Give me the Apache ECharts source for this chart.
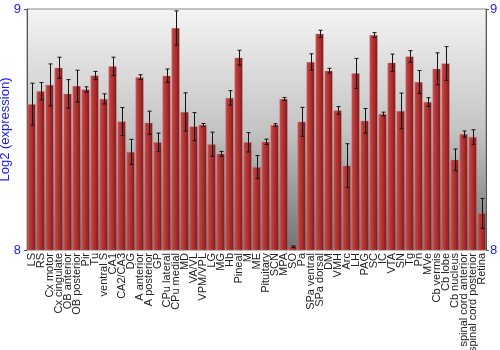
<!DOCTYPE html>
<html><head><meta charset="utf-8">
<script src="https://cdn.jsdelivr.net/npm/echarts@6/dist/echarts.min.js"></script>
<style>html,body{margin:0;padding:0;background:#fff}#c{width:500px;height:350px}</style>
</head><body><div id="c"></div>
<script>
const categories = ["LS","RS","Cx motor","Cx cingulate","OB anterior","OB posterior","Pir","Tu","ventral S","CA1","CA2/CA3","DG","A anterior","A posterior","GP","CPu lateral","CPu medial","MD","VA/VL","VPM/VPL","LG","MG","Hb","Pineal","M","ME","Pituitary","SCN","MPA","SO","Pa","SPa ventral","SPa dorsal","DM","VMH","Arc","LH","PAG","SC","IC","VTA","SN","Tg","Pn","MVe","Cb vermis","Cb lobe","Cb nucleus","spinal cord anterior","spinal cord posterior","Retina"];
const values = [8.605,8.659,8.685,8.756,8.648,8.680,8.666,8.724,8.627,8.762,8.533,8.407,8.717,8.528,8.447,8.723,8.921,8.573,8.512,8.519,8.439,8.399,8.631,8.798,8.447,8.344,8.449,8.519,8.627,8.014,8.532,8.780,8.897,8.744,8.579,8.350,8.733,8.536,8.892,8.564,8.777,8.577,8.803,8.697,8.614,8.752,8.774,8.374,8.481,8.469,8.152];
const errors = [0.087,0.036,0.087,0.044,0.059,0.066,0.011,0.017,0.021,0.038,0.058,0.052,0.010,0.048,0.038,0.028,0.071,0.079,0.058,0.006,0.050,0.010,0.030,0.031,0.040,0.048,0.011,0.005,0.006,0.003,0.060,0.034,0.015,0.010,0.016,0.091,0.062,0.051,0.010,0.008,0.036,0.074,0.024,0.048,0.018,0.066,0.070,0.045,0.013,0.030,0.062];
const yTicks = [8, 9];

const chart = echarts.init(document.getElementById('c'), null, {renderer:'canvas'});
const errData = values.map((v,i)=>[i, v-errors[i], v+errors[i]]);
chart.setOption({
  animation:false,
  grid:{left:27,right:14,top:9,bottom:100,containLabel:false,outerBoundsMode:'none',show:true,borderColor:'#8a8a8a',borderWidth:1,
    backgroundColor:new echarts.graphic.LinearGradient(0,0,0,1,[{offset:0,color:'#f4f4f4'},{offset:0.5,color:'#c4c4c4'},{offset:1,color:'#727272'}])},
  xAxis:{type:'category',data:categories,
    axisLine:{show:false},axisTick:{show:false},
    axisLabel:{rotate:90,interval:0,fontFamily:'Liberation Sans, Arial',fontSize:11,color:'#222',margin:3}},
  yAxis:[
    {type:'value',min:yTicks[0],max:yTicks[1],interval:1,position:'left',
     name:'Log2 (expression)',nameLocation:'middle',nameGap:15,nameMoveOverlap:false,
     nameTextStyle:{color:'#1a1aff',fontFamily:'Liberation Sans, Arial',fontSize:13},
     axisLine:{show:true,lineStyle:{color:'#555'}},axisTick:{show:true,length:3,lineStyle:{color:'#555'}},
     splitLine:{show:false},
     axisLabel:{color:'#1a1aff',fontFamily:'Liberation Sans, Arial',fontSize:13,margin:6}},
    {type:'value',min:yTicks[0],max:yTicks[1],interval:1,position:'right',
     axisLine:{show:true,lineStyle:{color:'#555'}},axisTick:{show:true,length:3,lineStyle:{color:'#555'}},
     splitLine:{show:false},
     axisLabel:{color:'#1a1aff',fontFamily:'Liberation Sans, Arial',fontSize:13,margin:4}}
  ],
  series:[
    {type:'bar',data:values,barWidth:'90%',
     itemStyle:{borderColor:'rgba(210,120,120,0.6)',borderWidth:0.5,
       color:new echarts.graphic.LinearGradient(0,0,1,0,[{offset:0,color:'#cc5c5c'},{offset:0.2,color:'#bd4040'},{offset:0.7,color:'#a02828'},{offset:1,color:'#721212'}])}},
    {type:'custom',data:errData,z:5,
     renderItem:function(params,api){
       const x=api.value(0);
       const lo=api.coord([x,api.value(1)]);
       const hi=api.coord([x,api.value(2)]);
       const cx=Math.round(lo[0])+0.5;
       const w=2;
       const st={stroke:'#111',lineWidth:1};
       return {type:'group',children:[
         {type:'line',shape:{x1:cx,y1:hi[1],x2:cx,y2:lo[1]},style:st},
         {type:'line',shape:{x1:cx-w,y1:hi[1],x2:cx+w,y2:hi[1]},style:st},
         {type:'line',shape:{x1:cx-w,y1:lo[1],x2:cx+w,y2:lo[1]},style:st}
       ]};
     }}
  ]
});
</script></body></html>
